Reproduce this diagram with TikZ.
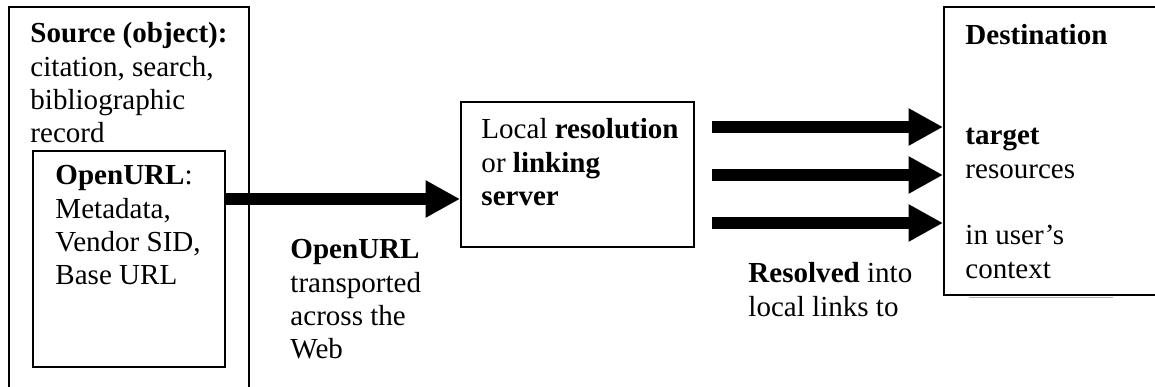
\documentclass[tikz,border=0pt]{standalone}
\usepackage{fontspec}
\setmainfont{Liberation Serif}
\usetikzlibrary{arrows.meta,fit}
\begin{document}
\begin{tikzpicture}[x=0.42pt,y=-0.42pt,
  box/.style={draw, line width=0.8pt, inner sep=0pt},
  txt/.style={inner sep=0pt, anchor=base west, font=\fontsize{12.2}{14}\selectfont},
  bigarrow/.style={line width=4.8pt, -{Triangle[length=14.5pt,width=14.7pt]}}]
\useasboundingbox (0,0) rectangle (1155,387);
\clip (0,0) rectangle (1155,387);
% boxes
\node[box, fit={(9,7) (249,400)}] (src) {};
\node[box, fit={(33,151) (225,367)}] (inner) {};
\node[box, fit={(461,102) (694,247)}] (mid) {};
\node[box, fit={(944,7) (1175,295)}] (dest) {};
\draw[black!30, line width=0.8pt] (969,297.5) -- (1113,297.5);
% texts
\node[txt] (srct) at (30,43) {\parbox[t]{110pt}{\raggedright\textbf{Source (object):}\\citation, search,\\bibliographic\\record}};
\node[txt] (innert) at (55,185) {\parbox[t]{80pt}{\raggedright\textbf{OpenURL}:\\Metadata,\\Vendor SID,\\Base URL}};
\node[txt] (midt) at (481,139) {\parbox[t]{95pt}{\raggedright Local \textbf{resolution}\\or \textbf{linking}\\\textbf{server}}};
\node[txt] (lab1) at (290,259) {\parbox[t]{60pt}{\raggedright\textbf{OpenURL}\\transported\\across the\\Web}};
\node[txt] (lab2) at (748,283) {\parbox[t]{80pt}{\raggedright\textbf{Resolved} into\\local links to}};
\node[txt] (destt) at (965,45) {\parbox[t]{80pt}{\raggedright\textbf{Destination}\\\strut\\\strut\\\textbf{target}\\resources\\\strut\\in user’s\\context}};
% arrows
\coordinate (a1) at (0,199);
\draw[bigarrow] (inner.east |- a1) -- (mid.west |- a1);
\coordinate (r1) at (712,127);
\coordinate (r2) at (712,175);
\coordinate (r3) at (712,223);
\draw[bigarrow] (r1) -- (dest.west |- r1);
\draw[bigarrow] (r2) -- (dest.west |- r2);
\draw[bigarrow] (r3) -- (dest.west |- r3);
\end{tikzpicture}
\end{document}
